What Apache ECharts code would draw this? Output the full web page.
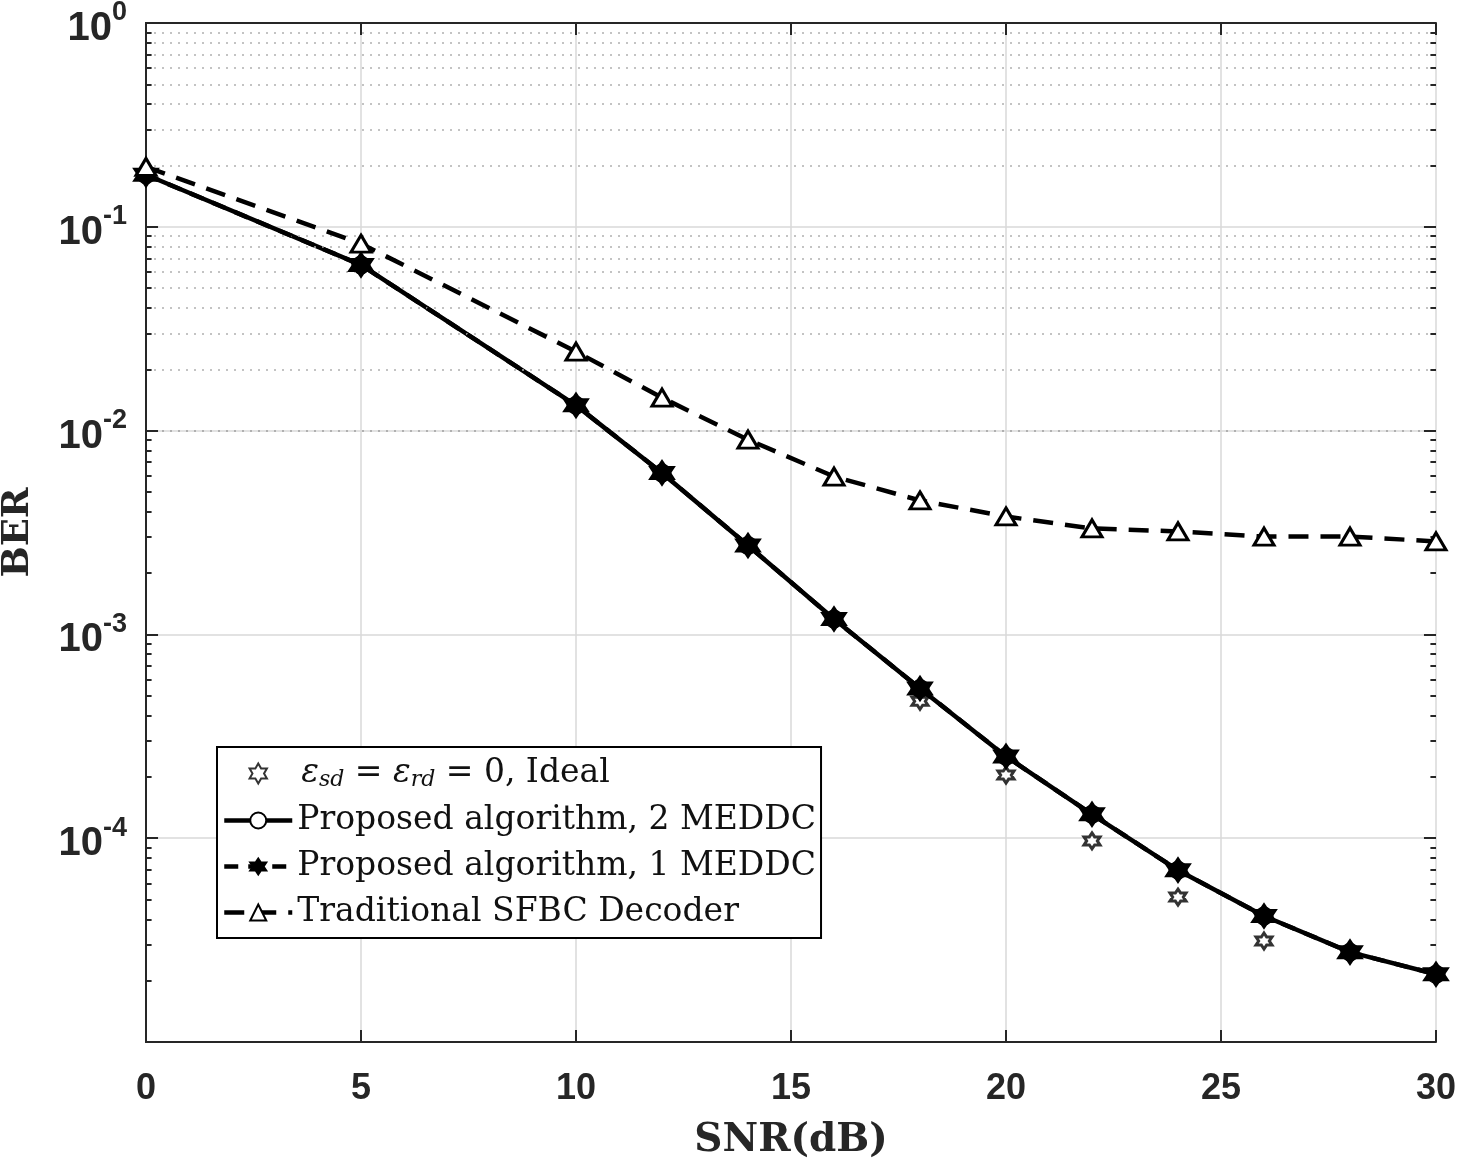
<!DOCTYPE html>
<html><head><meta charset="utf-8">
<script src="https://cdn.jsdelivr.net/npm/echarts@6/dist/echarts.min.js"></script>
<style>html,body{margin:0;padding:0;background:#fff}#c{width:1459px;height:1162px}</style>
</head><body><div id="c"></div>
<script>
const snr = [0, 5, 10, 12, 14, 16, 18, 20, 22, 24, 26, 28, 30];
const berIdeal = [0.18, 0.065, 0.0133, 0.0062, 0.00273, 0.00119, 4.7e-4, 2.04e-4, 9.7e-5, 5.14e-5, 3.13e-5, 2.76e-5, 2.15e-5];
const berMeddc2 = [0.18, 0.065, 0.0133, 0.0062, 0.00273, 0.00119, 5.43e-4, 2.52e-4, 1.31e-4, 6.97e-5, 4.15e-5, 2.76e-5, 2.15e-5];
const berMeddc1 = [0.18, 0.065, 0.0133, 0.0062, 0.00273, 0.00119, 5.43e-4, 2.52e-4, 1.31e-4, 6.97e-5, 4.15e-5, 2.76e-5, 2.15e-5];
const berTrad = [0.197, 0.0826, 0.0244, 0.0145, 0.00903, 0.00595, 0.00454, 0.00379, 0.00331, 0.0032, 0.00302, 0.00302, 0.00286];
const xTicks = [0, 5, 10, 15, 20, 25, 30];
const yDecades = [1e-5, 1e-4, 1e-3, 1e-2, 1e-1, 1];
const names = ['Ideal', 'Proposed algorithm, 2 MEDDC', 'Proposed algorithm, 1 MEDDC', 'Traditional SFBC Decoder'];

function hexagram() {
  let p = [];
  for (let i = 0; i < 12; i++) {
    const r = i % 2 === 0 ? 1 : 0.577;
    const a = -Math.PI / 2 + i * Math.PI / 6;
    p.push((i ? 'L' : 'M') + (r * Math.cos(a) * 10).toFixed(2) + ' ' + (r * Math.sin(a) * 10).toFixed(2));
  }
  return 'path://' + p.join(' ') + ' Z';
}
const HEX = hexagram();

const minorVals = [];
for (let d = -5; d <= -1; d++) for (let m = 2; m <= 9; m++) minorVals.push(m * Math.pow(10, d));

const minorGrid = minorVals.map(v => ({ yAxis: v }));
const tickSegs = [];
minorVals.forEach(v => {
  tickSegs.push([{ coord: [0, v] }, { coord: [0.13, v] }]);
  tickSegs.push([{ coord: [29.87, v] }, { coord: [30, v] }]);
});
yDecades.forEach(v => {
  tickSegs.push([{ coord: [0, v] }, { coord: [0.28, v] }]);
  tickSegs.push([{ coord: [29.72, v] }, { coord: [30, v] }]);
});

const chart = echarts.init(document.getElementById('c'), null, { renderer: 'canvas' });
const tickFont = 'Liberation Sans';
const nameFont = 'DejaVu Serif';
const legFont = 'DejaVu Serif';
chart.setOption({
  animation: false,
  backgroundColor: '#fff',
  grid: { left: 146, top: 23, right: 23, bottom: 120, containLabel: false, outerBoundsMode: 'none' },
  xAxis: [{
    type: 'value', min: 0, max: 30, interval: 5,
    name: 'SNR(dB)', nameLocation: 'middle', nameGap: 79,
    nameTextStyle: { fontFamily: nameFont, fontWeight: 'bold', fontSize: 39, color: '#262626' },
    axisLine: { show: true, lineStyle: { color: '#262626', width: 2 } },
    axisTick: { show: true, inside: true, length: 12, lineStyle: { color: '#262626', width: 2 } },
    axisLabel: { fontFamily: tickFont, fontWeight: 'bold', fontSize: 36, color: '#262626', margin: 29 },
    splitLine: { show: true, lineStyle: { color: '#d9d9d9', width: 1.5 } }
  }, {
    type: 'value', min: 0, max: 30, interval: 5, position: 'top',
    axisLine: { show: true, onZero: false, lineStyle: { color: '#262626', width: 2 } },
    axisTick: { show: true, inside: true, length: 12, lineStyle: { color: '#262626', width: 2 } },
    axisLabel: { show: false }, splitLine: { show: false }
  }],
  yAxis: [{
    type: 'log', logBase: 10, min: 1e-5, max: 1,
    name: 'BER', nameLocation: 'middle', nameGap: 109, nameRotate: 90,
    nameTextStyle: { fontFamily: nameFont, fontWeight: 'bold', fontSize: 37, color: '#262626' },
    axisLine: { show: true, lineStyle: { color: '#262626', width: 2 } },
    axisTick: { show: false },
    axisLabel: {
      margin: 19,
      formatter: v => {
        const e = Math.round(Math.log10(v));
        if (e === -5) return '';
        return '{b|10}{s|' + e + '}';
      },
      rich: {
        b: { fontFamily: tickFont, fontWeight: 'bold', fontSize: 40, color: '#262626', padding: [12, 0, 0, 0] },
        s: { fontFamily: tickFont, fontWeight: 'bold', fontSize: 27, color: '#262626', padding: [0, 0, 20, 0] }
      }
    },
    splitLine: { show: true, lineStyle: { color: '#d9d9d9', width: 1.5 } }
  }, {
    type: 'log', logBase: 10, min: 1e-5, max: 1, position: 'right',
    axisLine: { show: true, lineStyle: { color: '#262626', width: 2 } },
    axisTick: { show: false }, axisLabel: { show: false }, splitLine: { show: false }
  }],
  legend: {
    data: names,
    orient: 'vertical', left: 217, top: 747,
    backgroundColor: '#fff', borderColor: '#000', borderWidth: 2,
    padding: [10, 5, 9, 5], itemGap: 13, itemWidth: 68, itemHeight: 20,
    lineStyle: { width: 4.5 },
    textStyle: {
      fontFamily: legFont, fontSize: 33, color: '#111',
      rich: {
        e: { fontFamily: legFont, fontStyle: 'italic', fontSize: 33, color: '#111' },
        e0: { fontFamily: legFont, fontStyle: 'italic', fontSize: 33, color: '#111', padding: [0, 0, 0, 4] },
        sub: { fontFamily: legFont, fontStyle: 'italic', fontSize: 22, color: '#111', padding: [13, 0, 0, 0] },
        t: { fontFamily: legFont, fontSize: 33, color: '#111' }
      }
    },
    formatter: n => n === 'Ideal' ? '{e0|ε}{sub|sd}{t| = }{e|ε}{sub|rd}{t| = 0, Ideal}' : n
  },
  series: [
    {
      name: 'grid-minor', type: 'line', data: [], silent: true,
      markLine: {
        silent: true, symbol: ['none', 'none'], label: { show: false }, animation: false,
        lineStyle: { color: '#b0b0b0', type: [2, 6], width: 1.5 },
        data: minorGrid
      }
    },
    {
      name: 'ticks', type: 'line', data: [], silent: true,
      markLine: {
        silent: true, symbol: ['none', 'none'], label: { show: false }, animation: false,
        lineStyle: { color: '#262626', type: 'solid', width: 2 },
        data: tickSegs
      }
    },
    {
      name: 'Ideal', type: 'scatter', data: snr.map((x, i) => [x, berIdeal[i]]),
      symbol: HEX, symbolSize: 16,
      itemStyle: { color: '#fff', borderColor: '#000', borderWidth: 3 }, z: 3
    },
    {
      name: 'Proposed algorithm, 2 MEDDC', type: 'line', data: snr.map((x, i) => [x, berMeddc2[i]]),
      symbol: 'circle', symbolSize: 16, showAllSymbol: true,
      lineStyle: { color: '#000', width: 4.5, type: 'solid' },
      itemStyle: { color: '#fff', borderColor: '#000', borderWidth: 3 }, z: 4
    },
    {
      name: 'Proposed algorithm, 1 MEDDC', type: 'line', data: snr.map((x, i) => [x, berMeddc1[i]]),
      symbol: HEX, symbolSize: 24, showAllSymbol: true,
      lineStyle: { color: '#000', width: 4.5, type: [14, 10] },
      itemStyle: { color: '#000', borderColor: '#000', borderWidth: 2 }, z: 5
    },
    {
      name: 'Traditional SFBC Decoder', type: 'line', data: snr.map((x, i) => [x, berTrad[i]]),
      symbol: 'triangle', symbolSize: [20, 17], showAllSymbol: true,
      lineStyle: { color: '#000', width: 4.5, type: [20, 12] },
      itemStyle: { color: '#fff', borderColor: '#000', borderWidth: 3 }, z: 6
    }
  ]
});
</script></body></html>
